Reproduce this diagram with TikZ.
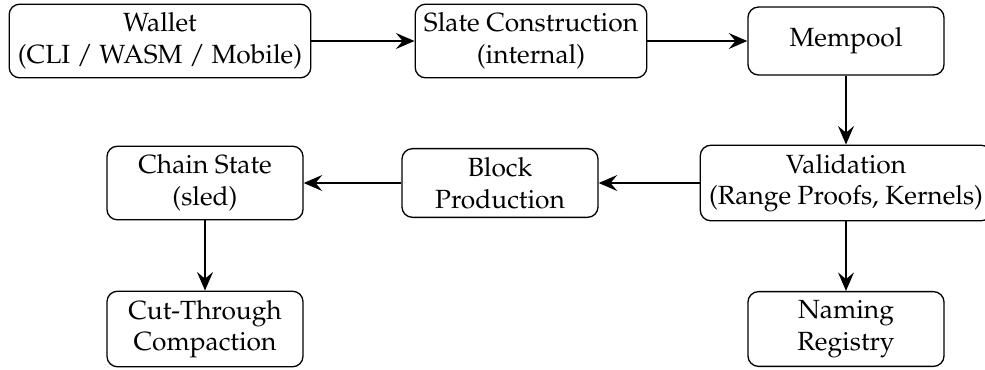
\documentclass[tikz,border=0pt]{standalone}
\usepackage[T1]{fontenc}
\usepackage{mathpazo}
\usetikzlibrary{arrows.meta}
\tikzset{
  box/.style={draw, rounded corners=4pt, align=center, inner sep=3.33pt,
    minimum width=74.5pt, minimum height=25.8pt, line width=0.5pt},
  flow/.style={-{Stealth[length=7pt,width=6pt,inset=2.5pt]}, line width=0.9pt}
}
\begin{document}
\begin{tikzpicture}[x=0.38pt, y=-0.38pt]
\useasboundingbox (0,0) rectangle (985,369);
\node[box] (wallet) at (160,41) {Wallet\\(CLI / WASM / Mobile)};
\node[box] (slate) at (531,41) {Slate Construction\\(internal)};
\node[box] (mempool) at (846,41) {Mempool};
\node[box] (valid) at (846,183) {Validation\\(Range Proofs, Kernels)};
\node[box] (block) at (500,183) {Block\\Production};
\node[box] (chain) at (205,183) {Chain State\\(sled)};
\node[box] (cut) at (205,329) {Cut-Through\\Compaction};
\node[box] (naming) at (846,329) {Naming\\Registry};
\draw[flow] (wallet) -- (slate);
\draw[flow] (slate) -- (mempool);
\draw[flow] (mempool) -- (valid);
\draw[flow] (valid) -- (block);
\draw[flow] (block) -- (chain);
\draw[flow] (chain) -- (cut);
\draw[flow] (valid) -- (naming);
\end{tikzpicture}
\end{document}
